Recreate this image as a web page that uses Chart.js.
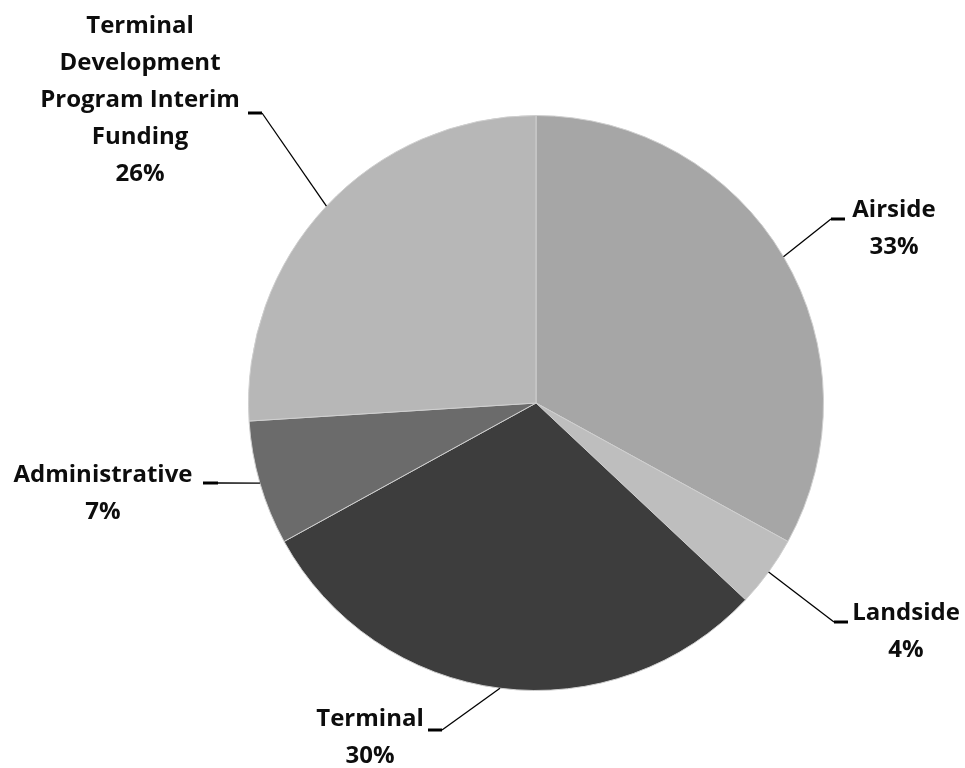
<!DOCTYPE html>
<html>
<head>
<meta charset="utf-8">
<script src="https://cdn.jsdelivr.net/npm/chart.js@4/dist/chart.umd.min.js"></script>
<style>
  html, body { margin: 0; padding: 0; background: #fff; }
  #wrap { width: 965px; height: 768px; }
</style>
</head>
<body>
<div id="wrap"><canvas id="pie-chart" width="965" height="768"></canvas></div>
<script>
// Capital program share by area (percent)
const categories = ['Airside', 'Landside', 'Terminal', 'Administrative',
  ['Terminal', 'Development', 'Program Interim', 'Funding']];
const shares = [33, 4, 30, 7, 26];
const sliceColors = ['#a6a6a6', '#bebebe', '#3d3d3d', '#6b6b6b', '#b7b7b7'];

// where each label sits: text centre x, first line y, elbow of the leader line, side of the tick
const labelSpots = [
  { x: 894, y: 210, elbowX: 831, elbowY: 219, tick: 14 },
  { x: 906, y: 613, elbowX: 834, elbowY: 622, tick: 14 },
  { x: 370, y: 719, elbowX: 442, elbowY: 730, tick: -14 },
  { x: 103, y: 475, elbowX: 218, elbowY: 483, tick: -15 },
  { x: 140, y: 26, elbowX: 262, elbowY: 113, tick: -14 }
];

const FONT = 'bold 24px "Open Sans", Lato, sans-serif';
const LINE_H = 37;

const leaderLabels = {
  id: 'leaderLabels',
  afterDatasetsDraw(chart) {
    const ctx = chart.ctx;
    const arcs = chart.getDatasetMeta(0).data;
    ctx.save();
    ctx.strokeStyle = '#000';
    ctx.fillStyle = '#0d0d0d';
    ctx.font = FONT;
    ctx.textAlign = 'center';
    ctx.textBaseline = 'middle';
    arcs.forEach((arc, i) => {
      const spot = labelSpots[i];
      const mid = (arc.startAngle + arc.endAngle) / 2;
      const sx = arc.x + Math.cos(mid) * arc.outerRadius;
      const sy = arc.y + Math.sin(mid) * arc.outerRadius;

      // thin leader from slice edge to elbow
      ctx.lineWidth = 1.3;
      ctx.beginPath();
      ctx.moveTo(sx, sy);
      ctx.lineTo(spot.elbowX, spot.elbowY);
      ctx.stroke();

      // short heavy tick next to the text
      ctx.lineWidth = 3;
      ctx.beginPath();
      ctx.moveTo(spot.elbowX, spot.elbowY);
      ctx.lineTo(spot.elbowX + spot.tick, spot.elbowY);
      ctx.stroke();

      const lines = [].concat(categories[i], shares[i] + '%');
      lines.forEach((t, j) => ctx.fillText(t, spot.x, spot.y + j * LINE_H));
    });
    ctx.restore();
  }
};

const ctx = document.getElementById('pie-chart');
new Chart(ctx, {
  type: 'pie',
  data: {
    labels: categories.map(c => [].concat(c).join(' ')),
    datasets: [{
      data: shares,
      backgroundColor: sliceColors,
      borderColor: '#cfcfcf',
      borderWidth: 1
    }]
  },
  options: {
    responsive: false,
    animation: false,
    layout: { padding: { top: 115, bottom: 77, left: 248, right: 141 } },
    plugins: {
      legend: { display: false },
      tooltip: { enabled: false }
    }
  },
  plugins: [leaderLabels]
});
</script>
</body>
</html>
